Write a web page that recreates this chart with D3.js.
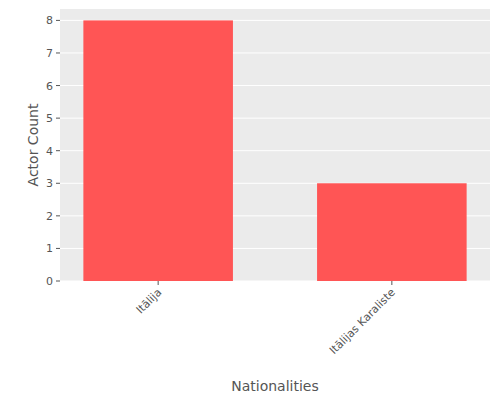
<!DOCTYPE html>
<html><head><meta charset="utf-8">
<script src="https://cdn.jsdelivr.net/npm/d3@7"></script>
<style>body{margin:0;background:#fff}</style></head>
<body><svg id="c" width="500" height="400"></svg>
<script>
const categories = ["Itālija", "Itālijas Karaliste"];
const counts = [8, 3];
const yTicks = [0,1,2,3,4,5,6,7,8];

const svg = d3.select("#c");
const L=60,R=490,T=9,B=281;
const x = d3.scaleLinear().domain([-0.42,1.42]).range([L,R]);
const y = d3.scaleLinear().domain([0,8.35]).range([B,T]);
const font="DejaVu Sans, sans-serif";
svg.append("rect").attr("x",L).attr("y",T).attr("width",R-L).attr("height",B-T).attr("fill","#EBEBEB");
svg.selectAll(".g").data(yTicks).enter().append("line")
  .attr("x1",L).attr("x2",R).attr("y1",d=>y(d)).attr("y2",d=>y(d)).attr("stroke","#fff").attr("stroke-width",1);
const bw = x(0.32)-x(0);
svg.selectAll(".b").data(counts).enter().append("rect")
  .attr("x",(d,i)=>x(i)-bw).attr("width",2*bw).attr("y",d=>y(d)).attr("height",d=>B-y(d)).attr("fill","#FF5555");
svg.selectAll(".yt").data(yTicks).enter().append("text")
  .attr("x",L-7).attr("y",d=>y(d)+4).attr("text-anchor","end").attr("font-family",font).attr("font-size",11).attr("fill","#555").text(d=>d);
svg.selectAll(".ytk").data(yTicks).enter().append("line")
  .attr("x1",L-4).attr("x2",L).attr("y1",d=>y(d)).attr("y2",d=>y(d)).attr("stroke","#555");
categories.forEach((c,i)=>{
  svg.append("line").attr("x1",x(i)).attr("x2",x(i)).attr("y1",B).attr("y2",B+4).attr("stroke","#555");
  svg.append("text").attr("transform",`translate(${x(i)+4},${B+12}) rotate(-45)`).attr("text-anchor","end")
   .attr("font-family",font).attr("font-size",11).attr("fill","#555").text(c);
});
svg.append("text").attr("x",(L+R)/2).attr("y",391).attr("text-anchor","middle").attr("font-family",font).attr("font-size",14).attr("fill","#555").text("Nationalities");
svg.append("text").attr("transform",`translate(38,${(T+B)/2}) rotate(-90)`).attr("text-anchor","middle").attr("font-family",font).attr("font-size",14).attr("fill","#555").text("Actor Count");
</script></body></html>
